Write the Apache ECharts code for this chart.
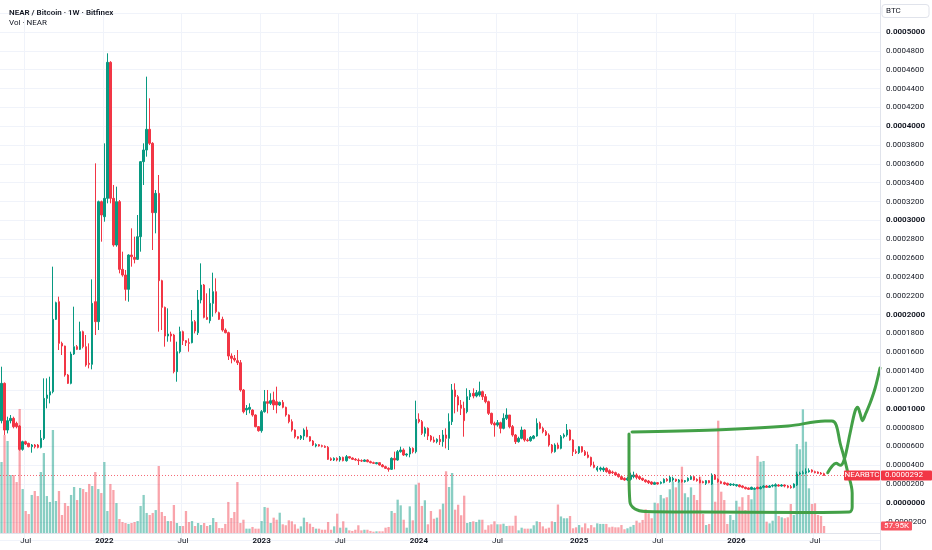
<!DOCTYPE html>
<html><head><meta charset="utf-8">
<script src="https://cdn.jsdelivr.net/npm/echarts@6/dist/echarts.min.js"></script>
<style>html,body{margin:0;padding:0;background:#fff}#c{width:932px;height:550px}</style>
</head><body><div id="c"></div>
<script>
// Prices in satoshis (1e-8 BTC), weekly bars starting 2021-05-10
const SAT = 1e-8;
const startDate = Date.UTC(2021, 4, 10);
const totalWeeks = 291;

const open = [8737,12701,7746,8737,8985,8454,8170,5694,6508,6331,
5977,6154,6154,5907,6862,11108,11462,11816,19496,21372,
16948,16665,13586,12701,15815,16594,16311,18187,16594,14824,
14718,21372,19248,31988,30395,32342,46781,32342,27388,31988,
24804,24203,22681,26326,26078,25866,28272,36235,37474,39668,
38181,30821,32873,23601,20770,17727,17940,17832,13940,16063,
18187,17231,17019,17019,19248,18081,21549,23141,19708,19355,
21194,22434,20203,19496,18363,18081,15603,15356,15108,14895,
11993,9870,9941,9872,9341,8103,7678,9695,10757,10580,
10934,10757,10403,10686,10155,9341,8634,7749,7041,6864,
7112,7749,7041,6581,6050,6192,6086,6015,5909,4705,
4564,4741,4564,4847,4493,4918,4776,4635,4564,4493,
4423,4564,4387,4281,4175,4281,4033,3856,3679,3573,
4741,4564,5449,5625,5094,5200,5802,5449,8881,8634,
7395,7926,7112,6687,6510,6758,6510,7218,6864,8634,
11996,11288,10403,10049,9695,11288,11642,11359,11465,11819,
11288,10757,9518,8457,8280,8527,7926,8988,9341,8103,
7218,6510,6864,7749,6687,6616,6864,7112,8457,7926,
7572,7218,6156,5449,6156,5802,7041,7218,7749,6687,
5449,5342,5979,5449,5096,4848,4034,3503,3574,3503,
3680,3432,3291,3220,3043,2795,2618,2442,2512,2795,
2972,2795,2618,2442,2335,2229,1981,2158,2088,2158,
2512,2265,2442,2512,2265,2442,2265,2371,2512,2795,
2512,2442,2265,2088,2371,2017,2972,2512,2265,2158,
2088,1911,1911,1840,1911,1804,1663,1592,1451,1450,
1662,1521,1662,1803,1662,1803,1803,1910,1803,1910,
1803,1733,1662,1910,3077,3148,3219,3325,3502,3325,
3290,3183,3113];

const close = [12701,7746,8737,8985,8100,8100,5694,6508,6260,5977,
6154,5977,5907,6862,11108,11462,11816,19496,21266,16948,
16665,13586,12701,15815,16594,16311,18187,16594,14648,14718,
21194,19248,31988,30573,32342,46781,32342,27388,31988,24804,
24203,22681,26326,26149,25866,28272,36235,37474,39668,38181,
30821,32873,23601,20770,17727,17940,17727,13940,16063,18187,
17231,17019,16948,19248,18257,21549,23141,19708,19496,21194,
22434,20310,19496,18363,18081,15603,15356,15179,14895,11993,
9693,10047,10153,9341,8103,7678,9695,10757,10580,10863,
10403,10403,10686,10155,9341,8634,7749,7041,6864,7112,
7749,7041,6581,6156,6192,6050,6015,5909,4635,4564,
4741,4564,4847,4493,4918,4776,4635,4564,4493,4458,
4564,4387,4281,4210,4281,4033,3856,3679,3573,4741,
4564,5449,5625,5094,5200,5802,5449,8881,8634,7395,
7926,7112,6687,6510,6758,6510,7218,6864,8634,11996,
11288,10403,10049,8740,11288,11642,11359,11713,11819,11288,
10757,9518,8457,8280,8527,7926,8988,9341,8103,7218,
6510,6864,7749,6687,6616,6970,7112,8457,7926,7572,
7218,6156,5449,6156,5802,7041,7218,7749,6687,5449,
5342,5979,5449,5094,4848,4034,3786,3751,3716,3680,
3326,3149,3220,2972,2795,2512,2442,2618,2972,2972,
2725,2583,2442,2265,2158,2017,2158,2017,2194,2512,
2371,2725,2618,2335,2442,2265,2371,2618,2795,2442,
2371,2158,2158,2371,2158,2972,2512,2265,2088,2017,
1911,2017,1981,1946,1734,1663,1521,1451,1663,1556,
1521,1662,1803,1662,1803,1874,1945,1803,1910,1803,
1662,1627,2016,3077,3148,3219,3325,3431,3325,3219,
3148,3077,2920];

const high = [14470,12800,9162,9339,9162,8630,8276,6614,6614,6402,
6260,6260,6260,7746,13232,13232,13409,25088,21372,21902,
17125,16700,13700,16063,20841,16771,19248,18300,17832,16948,
23742,36058,32100,32100,38181,47737,46900,33758,33581,32165,
26680,24733,26400,29157,28272,30573,36300,38181,45259,42959,
38300,33227,34820,23700,20850,20664,18187,17950,17125,18717,
18300,17302,17479,20487,19425,22611,25441,23250,22257,22788,
24450,23849,20310,19779,18540,18187,15886,15709,16240,15179,
12100,10401,10577,9943,9412,8174,9872,11996,11996,11642,
11819,12350,10757,10934,10226,9412,8881,7820,7112,7218,
7926,8103,7112,6687,6333,6262,6192,6121,6050,4847,
4847,4847,4988,4918,5094,4988,4847,4776,4741,4635,
4635,4635,4493,4387,4352,4316,4139,3962,3785,4847,
5449,5625,5979,5802,5271,5979,5909,10863,9518,8811,
8103,8032,7218,7041,6864,7218,7749,7926,9518,12633,
12703,11465,10934,10757,12173,11996,12173,11996,12880,11925,
11571,10863,9589,8634,8811,8634,9518,10049,9341,8280,
7324,7041,8103,7820,6864,7112,7218,8988,8634,8103,
7749,7395,6262,6333,6404,7218,7395,8386,7820,6758,
5696,6050,6050,5625,5450,4919,4388,3928,3857,3857,
3786,3574,3432,3326,3149,2866,2725,2795,3220,3326,
3149,2866,2689,2512,2442,2300,2265,2229,2300,2618,
2654,2866,2795,2583,2548,2512,2442,2725,2972,2866,
2618,2795,2371,2442,2442,3149,3078,2618,2371,2265,
2158,2088,2088,2017,1981,1875,1734,1663,1734,1662,
1733,1803,1910,1910,1910,1980,2087,2016,2016,1980,
1910,1910,2087,3325,3325,3431,3679,3679,3573,3431,
3360,3290,3219];

const low = [8454,7215,7392,8454,7924,7924,5553,5553,6154,5907,
5340,5800,5800,5800,6685,10047,10577,11639,19425,16240,
15709,13409,12630,12600,15709,16240,16240,16417,14470,14293,
14187,17832,18363,27741,29865,31812,31812,27211,27211,24379,
24026,21478,21372,25088,25441,25795,26680,33758,36766,38004,
26857,28626,18187,18363,16594,17125,17125,13763,12878,15886,
16771,16665,16063,16948,18010,17832,21194,19602,19425,19072,
19779,20132,19425,18187,18010,15179,14824,15002,14648,11816,
9517,9339,9517,9165,8032,7572,7466,9589,9518,10403,
9872,9518,10297,10049,9165,8457,7572,6864,6758,6687,
6687,6970,6510,6050,5909,5979,5909,5838,4564,4458,
4458,4423,4387,4423,4387,4705,4564,4493,4033,4352,
4352,4316,4210,4139,4104,3962,3785,3608,3325,3502,
3573,4493,5342,4988,4918,4847,5271,5271,8457,7218,
7041,6687,6510,6404,6333,6156,5979,5802,5625,8280,
9518,9695,9341,7041,9518,10934,11111,11217,11288,10934,
10580,9341,8280,7041,8103,7395,7820,8811,7926,7041,
6262,6404,6758,6510,6510,6510,6758,7041,7820,7395,
7112,5979,5271,5342,5696,5696,6864,7041,6616,4988,
5200,5200,5342,4988,4742,3857,3680,3326,3362,3291,
3220,3043,3078,2866,2689,2442,2371,2335,2371,2618,
2512,2442,2335,2158,2017,1911,1911,1946,1981,2088,
2265,2158,2265,2229,2158,2158,2158,2265,2442,2371,
2265,2088,2088,1911,2088,1911,2442,2158,2017,1911,
1840,1804,1804,1734,1663,1557,1451,1380,1380,1379,
1450,1450,1556,1591,1591,1662,1733,1733,1733,1662,
1556,1520,1556,1803,2971,3042,3077,3219,3219,3148,
3077,3006,2900];

// Volume in thousands of NEAR
const volumeK = [588,811,762,480,480,422,1027,364,182,157,
315,348,306,505,662,306,257,853,265,348,
149,248,224,315,381,273,373,364,339,406,
389,505,364,331,588,182,406,356,248,116,
91,83,75,83,91,99,224,315,166,149,
166,190,555,174,141,99,99,232,83,58,
58,182,91,99,58,83,66,83,58,66,
124,91,41,41,75,257,124,174,422,83,
110,36,36,50,36,36,99,215,209,83,
127,110,168,72,64,105,97,72,36,55,
127,91,77,50,36,36,27,27,91,27,
55,160,44,97,44,22,17,27,64,22,
27,27,17,11,14,14,14,44,50,182,
166,276,229,110,44,221,105,400,416,224,
271,72,182,118,127,196,243,511,381,497,
193,234,147,309,83,91,97,91,110,110,
27,64,72,97,72,72,77,58,60,60,
143,22,44,36,36,36,64,97,91,55,
36,44,97,91,236,137,122,122,141,39,
47,66,47,80,39,66,47,80,75,75,
75,47,52,47,47,66,31,39,52,66,
102,85,108,196,163,122,251,246,315,287,
296,362,425,378,425,549,329,296,378,315,
273,466,157,66,75,412,259,930,342,273,
75,149,108,267,218,296,190,315,279,356,
638,590,596,94,80,102,389,141,130,122,
130,240,149,737,693,1024,756,370,240,246,
149,141,57.95];

// Hand-drawn annotation, as [week index, price in BTC]
const boxPath = [[208.5,0.0000754],[235.9,0.0000775],[260.1,0.0000817],[272.3,0.0000870],[274.6,0.0000870],
[276.0,0.0000828],[277.3,0.0000637],[278.6,0.0000488],[279.9,0.0000318],[281.3,0.0000106],[281.3,-0.0000042],
[280.3,-0.0000096],[264.0,-0.0000101],[231.0,-0.0000096],[212.8,-0.0000090],[209.5,-0.0000064],[207.8,0.0000011],
[207.5,0.0000350],[207.5,0.0000732]];
const squigglePath = [[273.2,0.0000322],[274.7,0.0000393],[276.0,0.0000421],[277.4,0.0000400],[278.7,0.0000464],
[280.6,0.0000740],[282.2,0.0000969],[283.1,0.0001016],[283.9,0.0000952],[284.7,0.0000874],[285.8,0.0000952],
[287.2,0.0001058],[288.9,0.0001221],[290.5,0.0001433]];

const UP = '#089981', DOWN = '#f23645';
const FONT = 'Roboto, "Noto Sans", sans-serif';
const TXT = '#131722';

const weekDate = i => new Date(startDate + i * 7 * 864e5);
const categories = [];
for (let i = 0; i < totalWeeks; i++) categories.push(weekDate(i).toISOString().slice(0, 10));
const isLabelWeek = i => { const d = weekDate(i); return d.getUTCDate() <= 7 && (d.getUTCMonth() === 0 || d.getUTCMonth() === 6); };

const candles = open.map((o, i) => [o * SAT, close[i] * SAT, low[i] * SAT, high[i] * SAT]);
const vols = volumeK.map((v, i) => ({ value: v, itemStyle: { color: close[i] >= open[i] ? 'rgba(8,153,129,0.48)' : 'rgba(242,54,69,0.45)' } }));
const last = close.length - 1;
const lastPrice = close[last] * SAT;

function fmtPrice(v) {
  if (Math.abs(v) < 1e-12) v = 0;
  const s = v.toFixed(7);
  const major = Math.abs(Math.round(v / 0.0001) * 0.0001 - v) < 1e-10;
  return major ? '{b|' + s + '}' : s;
}

const chart = echarts.init(document.getElementById('c'), null, { renderer: 'canvas' });
chart.setOption({
  animation: false,
  backgroundColor: '#ffffff',
  textStyle: { fontFamily: FONT },
  title: {
    text: 'NEAR / Bitcoin · 1W · Bitfinex', subtext: 'Vol · NEAR', left: 4, top: 4, itemGap: 2,
    textStyle: { fontSize: 8, fontWeight: 600, color: TXT, fontFamily: FONT },
    subtextStyle: { fontSize: 8, color: TXT, fontFamily: FONT }
  },
  grid: [
    { left: 0, right: 52, top: 13.16, bottom: 9.32 },
    { left: 0, right: 52, top: 333, bottom: 17 }
  ],
  xAxis: [
    { gridIndex: 0, type: 'category', data: categories, boundaryGap: true,
      axisLine: { show: false, onZero: false }, axisTick: { show: false }, axisLabel: { show: false },
      splitLine: { show: true, interval: (i) => isLabelWeek(i), lineStyle: { color: '#f0f3fa', width: 1 } } },
    { gridIndex: 1, type: 'category', data: categories, boundaryGap: true,
      axisLine: { show: true, onZero: false, lineStyle: { color: '#e0e3eb' } }, axisTick: { show: false },
      splitLine: { show: false },
      axisLabel: { margin: 4, fontSize: 8, color: TXT, fontFamily: FONT,
        interval: (i) => isLabelWeek(i),
        formatter: (v) => { const d = new Date(v + 'T00:00:00Z'); return d.getUTCMonth() === 0 ? '{b|' + d.getUTCFullYear() + '}' : 'Jul'; },
        rich: { b: { fontWeight: 'bold', fontSize: 8, color: TXT, fontFamily: FONT } } } },
    { gridIndex: 0, type: 'value', min: -0.5, max: totalWeeks - 0.5, show: false,
      axisLine: { show: false, onZero: false }, splitLine: { show: false } }
  ],
  yAxis: [
    { gridIndex: 0, type: 'value', position: 'right', min: -0.00004, max: 0.00052, interval: 0.00002,
      axisLine: { show: false, onZero: false }, axisTick: { show: false },
      splitLine: { lineStyle: { color: '#f0f3fa' } },
      axisLabel: { showMinLabel: false, showMaxLabel: false, margin: 6, fontSize: 8, color: TXT, fontFamily: FONT,
        formatter: fmtPrice, rich: { b: { fontWeight: 'bold', fontSize: 8, color: TXT, fontFamily: FONT } } } },
    { gridIndex: 1, type: 'value', min: 0, max: 1656, show: false, splitLine: { show: false } }
  ],
  series: [
    { type: 'bar', name: 'Vol', xAxisIndex: 1, yAxisIndex: 1, data: vols, barWidth: '76%' },
    { type: 'candlestick', name: 'NEARBTC', xAxisIndex: 0, yAxisIndex: 0, data: candles, barWidth: '66%',
      itemStyle: { color: UP, color0: DOWN, borderColor: UP, borderColor0: DOWN, borderWidth: 1 } },
    { type: 'line', name: 'last price', xAxisIndex: 2, yAxisIndex: 0,
      data: [[-0.5, lastPrice], [totalWeeks - 0.5, lastPrice]], showSymbol: false, silent: true,
      lineStyle: { color: DOWN, type: [1, 2], width: 1, opacity: 0.75 }, z: 3 },
    { type: 'line', name: 'box', xAxisIndex: 2, yAxisIndex: 0, data: boxPath, showSymbol: false, smooth: 0.35,
      lineStyle: { color: '#43a047', width: 3, cap: 'round', join: 'round' }, z: 10, silent: true },
    { type: 'line', name: 'squiggle', xAxisIndex: 2, yAxisIndex: 0, data: squigglePath, showSymbol: false, smooth: 0.35,
      lineStyle: { color: '#43a047', width: 3, cap: 'round', join: 'round' }, z: 10, silent: true }
  ]
});

const yLast = chart.convertToPixel({ yAxisIndex: 0 }, lastPrice);
const yVol = chart.convertToPixel({ yAxisIndex: 1 }, volumeK[last]);
const lbl = (x, y, w, h, fill, text, tx, align) => ([
  { type: 'rect', shape: { x: x, y: y - h / 2, width: w, height: h, r: 1 }, style: { fill: fill }, z: 100 },
  { type: 'text', x: tx, y: y, style: { text: text, fill: '#fff', fontSize: 8, fontFamily: FONT, align: align, verticalAlign: 'middle' }, z: 101 }
]);
chart.setOption({
  graphic: [
    { type: 'line', shape: { x1: 880.5, y1: 0, x2: 880.5, y2: 550 }, style: { stroke: '#e0e3eb', lineWidth: 1 }, z: 90 },
    { type: 'rect', shape: { x: 882, y: 4.5, width: 47, height: 13, r: 3 }, style: { fill: '#fff', stroke: '#e0e3eb', lineWidth: 1 }, z: 100 },
    { type: 'text', x: 886, y: 11, style: { text: 'BTC', fill: TXT, fontSize: 8, fontFamily: FONT, verticalAlign: 'middle' }, z: 101 },
    ...lbl(844, yLast, 36, 10, DOWN, 'NEARBTC', 862, 'center'),
    ...lbl(881, yLast, 51, 10, DOWN, fmtPrice(lastPrice), 885, 'left'),
    ...lbl(881, yVol, 31, 9, '#f7525f', '57.95K', 896.5, 'center')
  ]
});
</script>
</body></html>
